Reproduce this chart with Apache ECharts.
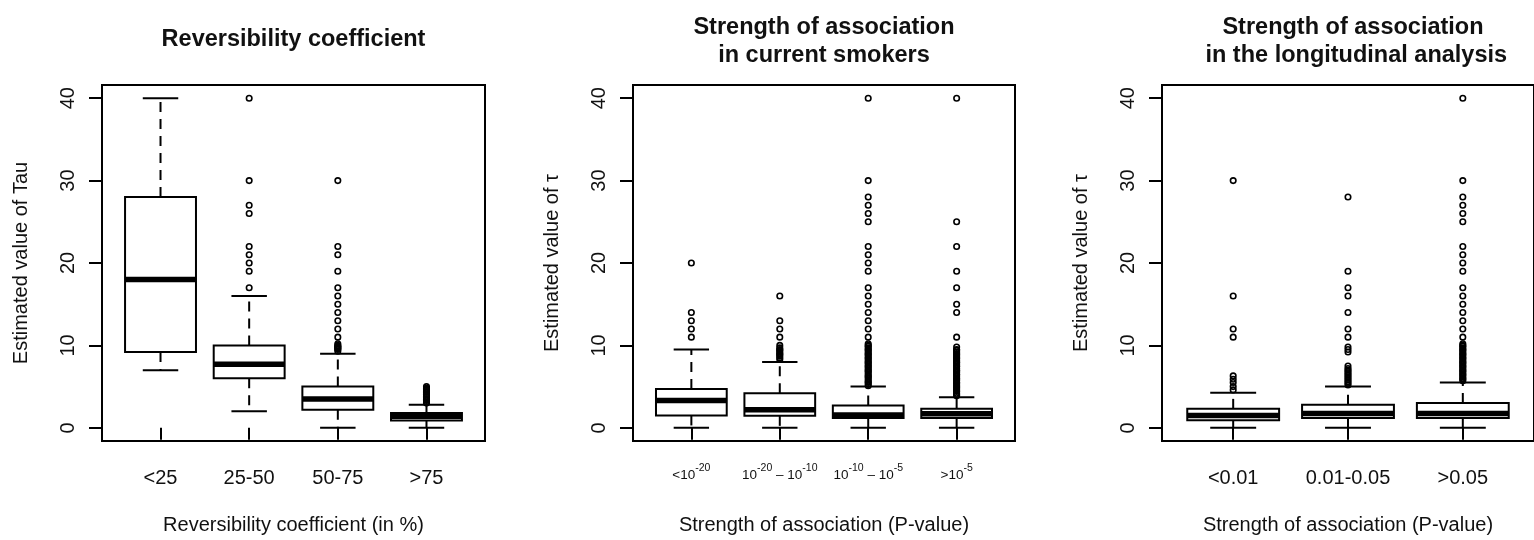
<!DOCTYPE html>
<html><head><meta charset="utf-8">
<script src="https://cdn.jsdelivr.net/npm/echarts@6/dist/echarts.min.js"></script>
<style>html,body{margin:0;padding:0;background:#fff}#c{width:1534px;height:540px}</style>
</head><body><div id="c"></div>
<script>
const titles = ['Reversibility coefficient', 'Strength of association\nin current smokers', 'Strength of association\n in the longitudinal analysis'];
const yNames = ['Estimated value of Tau', 'Estimated value of \u03c4', 'Estimated value of \u03c4'];
const xNames = ['Reversibility coefficient (in %)', 'Strength of association (P-value)', 'Strength of association (P-value)'];
const yTicks = [0, 10, 20, 30, 40];

const cats1 = ['<25', '25-50', '50-75', '>75'];
const cats2 = ['<10^-20', '10^-20 \u2013 10^-10', '10^-10 \u2013 10^-5', '>10^-5'];
const cats3 = ['<0.01', '0.01-0.05', '>0.05'];

// [lower whisker, Q1, median, Q3, upper whisker]
const stats1 = [[7, 9.2, 18, 28, 40], [2, 6, 7.7, 10, 16], [0, 2.2, 3.5, 5, 9], [0, 0.9, 1.4, 1.8, 2.8]];
const stats2 = [[0, 1.5, 3.3, 4.7, 9.5], [0, 1.45, 2.2, 4.2, 8.0], [0, 1.2, 1.55, 2.7, 5], [0, 1.2, 1.7, 2.3, 3.7]];
const stats3 = [[0, 0.93, 1.5, 2.3, 4.25], [0, 1.2, 1.75, 2.8, 5.0], [0, 1.2, 1.75, 3.0, 5.5]];

const out1 = [
  [],
  [17, 19, 20, 21, 22, 26, 27, 30, 40],
  [9.3, 9.5, 9.6, 9.7, 9.8, 9.9, 10, 10.2, 11, 12, 13, 14, 15, 16, 17, 19, 21, 22, 30],
  [3.0, 3.1, 3.3, 3.4, 3.5, 3.7, 3.8, 4.0, 4.1, 4.3, 4.4, 4.6, 4.7, 4.8, 5.0]
];
const out2 = [
  [11, 12, 13, 14, 20],
  [8.3, 8.5, 8.7, 8.9, 9.0, 9.2, 9.4, 9.5, 9.7, 10, 11, 12, 13, 16],
  [5.1, 5.3, 5.5, 5.6, 5.8, 6.0, 6.2, 6.3, 6.5, 6.7, 6.9, 7.0, 7.2, 7.4, 7.5, 7.7, 7.9, 8.0, 8.2, 8.4, 8.5, 8.7, 8.9, 9.0, 9.2, 9.4, 9.5, 9.7, 9.9, 10.0, 10.2, 11, 12, 13, 14, 15, 16, 17, 19, 20, 21, 22, 25, 26, 27, 28, 30, 40],
  [3.9, 4.0, 4.2, 4.4, 4.5, 4.7, 4.9, 5.0, 5.2, 5.4, 5.5, 5.7, 5.9, 6.0, 6.2, 6.4, 6.5, 6.7, 6.9, 7.0, 7.2, 7.4, 7.5, 7.7, 7.9, 8.0, 8.2, 8.4, 8.5, 8.7, 8.9, 9.0, 9.2, 9.4, 9.5, 9.8, 11, 14, 15, 17, 19, 22, 25, 40]
];
const out3 = [
  [4.6, 5.0, 5.5, 5.9, 6.3, 11, 12, 16, 30],
  [5.2, 5.4, 5.6, 5.8, 6.0, 6.2, 6.4, 6.6, 6.8, 7.0, 7.2, 7.5, 9.2, 9.5, 9.8, 11, 12, 14, 16, 17, 19, 28],
  [5.7, 5.9, 6.0, 6.2, 6.4, 6.5, 6.7, 6.9, 7.0, 7.2, 7.4, 7.5, 7.7, 7.9, 8.0, 8.2, 8.4, 8.5, 8.7, 8.9, 9.0, 9.2, 9.4, 9.5, 9.7, 9.9, 10.0, 10.2, 11, 12, 13, 14, 15, 16, 17, 19, 20, 21, 22, 25, 26, 27, 28, 30, 40]
];

const FONT = 'Liberation Sans, Arial, sans-serif';
const TXT = '#111';
const FS = 20;
const panels = [
  { cats: cats1, stats: stats1, out: out1, grid: { left: 102, right: 1049 }, cx: 293.5, rich: false },
  { cats: cats2, stats: stats2, out: out2, grid: { left: 633, right: 519 }, cx: 824, rich: true },
  { cats: cats3, stats: stats3, out: out3, grid: { left: 1162, right: -10 }, cx: 1353, rich: false }
];

function toRich(s) {
  return '{b|' + s.replace(/\^(-?\d+)/g, '}{s|$1}{b|') + '}';
}

function renderBox(params, api) {
  const x = api.value(0), lo = api.value(1), q1 = api.value(2), md = api.value(3), q3 = api.value(4), hi = api.value(5);
  const a = api.coord([x - 0.4, q3]), b = api.coord([x + 0.4, q1]);
  const m1 = api.coord([x - 0.4, md]), m2 = api.coord([x + 0.4, md]);
  const c3 = api.coord([x, q3]), ch = api.coord([x, hi]), c1 = api.coord([x, q1]), cl = api.coord([x, lo]);
  const sh1 = api.coord([x - 0.2, hi]), sh2 = api.coord([x + 0.2, hi]);
  const sl1 = api.coord([x - 0.2, lo]), sl2 = api.coord([x + 0.2, lo]);
  const dash = { stroke: '#000', lineWidth: 2, lineDash: [10, 7] };
  const solid = { stroke: '#000', lineWidth: 2 };
  return {
    type: 'group',
    children: [
      { type: 'line', shape: { x1: c3[0], y1: c3[1], x2: ch[0], y2: ch[1] }, style: dash },
      { type: 'line', shape: { x1: c1[0], y1: c1[1], x2: cl[0], y2: cl[1] }, style: dash },
      { type: 'line', shape: { x1: sh1[0], y1: sh1[1], x2: sh2[0], y2: sh2[1] }, style: solid },
      { type: 'line', shape: { x1: sl1[0], y1: sl1[1], x2: sl2[0], y2: sl2[1] }, style: solid },
      { type: 'rect', shape: { x: a[0], y: a[1], width: b[0] - a[0], height: b[1] - a[1] }, style: { fill: '#fff', stroke: '#000', lineWidth: 2 } },
      { type: 'line', shape: { x1: m1[0], y1: m1[1], x2: m2[0], y2: m2[1] }, style: { stroke: '#000', lineWidth: 5.5 } }
    ]
  };
}

const option = {
  animation: false,
  backgroundColor: '#fff',
  title: [], grid: [], xAxis: [], yAxis: [], series: []
};

panels.forEach((p, i) => {
  const n = p.cats.length;
  const ticksX = p.cats.map((c, k) => k + 1);
  option.title.push({
    text: titles[i], left: p.cx, top: i === 0 ? 26 : 14, textAlign: 'center', padding: 0,
    textStyle: { fontFamily: FONT, fontSize: 23.5, fontWeight: 'bold', color: TXT, lineHeight: 28 }
  });
  option.grid.push({ left: p.grid.left, right: p.grid.right, top: 85, bottom: 97, show: true, borderColor: '#000', borderWidth: 2, backgroundColor: 'rgba(0,0,0,0)' });
  const labelCfg = {
    customValues: ticksX, margin: 27, fontFamily: FONT, fontSize: FS, color: TXT,
    formatter: v => { const c = p.cats[Math.round(v) - 1] || ''; return p.rich ? toRich(c) : c; }
  };
  if (p.rich) {
    labelCfg.margin = 26;
    labelCfg.rich = {
      b: { fontFamily: FONT, fontSize: 13.5, lineHeight: 15, verticalAlign: 'bottom', color: TXT },
      s: { fontFamily: FONT, fontSize: 10.5, lineHeight: 12, padding: [0, 0, 8, 0], verticalAlign: 'bottom', color: TXT }
    };
  }
  option.xAxis.push({
    gridIndex: i, type: 'value', min: 0.5 - 0.04 * n, max: n + 0.5 + 0.04 * n,
    axisLine: { show: false },
    axisTick: { show: true, customValues: ticksX, length: 12, lineStyle: { color: '#000', width: 2 } },
    axisLabel: labelCfg,
    splitLine: { show: false },
    name: xNames[i], nameLocation: 'middle', nameGap: 74,
    nameTextStyle: { fontFamily: FONT, fontSize: FS, color: TXT }
  });
  option.yAxis.push({
    gridIndex: i, type: 'value', min: -1.6, max: 41.6,
    axisLine: { show: false },
    axisTick: { show: true, customValues: yTicks, length: 13, lineStyle: { color: '#000', width: 2 } },
    axisLabel: { customValues: yTicks, rotate: 90, margin: 24, fontFamily: FONT, fontSize: FS, color: TXT },
    splitLine: { show: false },
    name: yNames[i], nameLocation: 'middle', nameGap: 71, nameRotate: 90,
    nameTextStyle: { fontFamily: FONT, fontSize: FS, color: TXT }
  });
  option.series.push({
    type: 'custom', xAxisIndex: i, yAxisIndex: i,
    renderItem: renderBox,
    data: p.stats.map((s, k) => [k + 1].concat(s)),
    encode: { x: 0, y: [1, 2, 3, 4, 5] }, silent: true
  });
  option.series.push({
    type: 'scatter', xAxisIndex: i, yAxisIndex: i, symbol: 'circle', symbolSize: 5.5,
    itemStyle: { color: 'rgba(255,255,255,0)', borderColor: '#000', borderWidth: 1.6, opacity: 1 },
    data: p.out.flatMap((arr, k) => arr.map(v => [k + 1, v])), silent: true, z: 3
  });
});

const chart = echarts.init(document.getElementById('c'));
chart.setOption(option);
</script>
</body></html>
